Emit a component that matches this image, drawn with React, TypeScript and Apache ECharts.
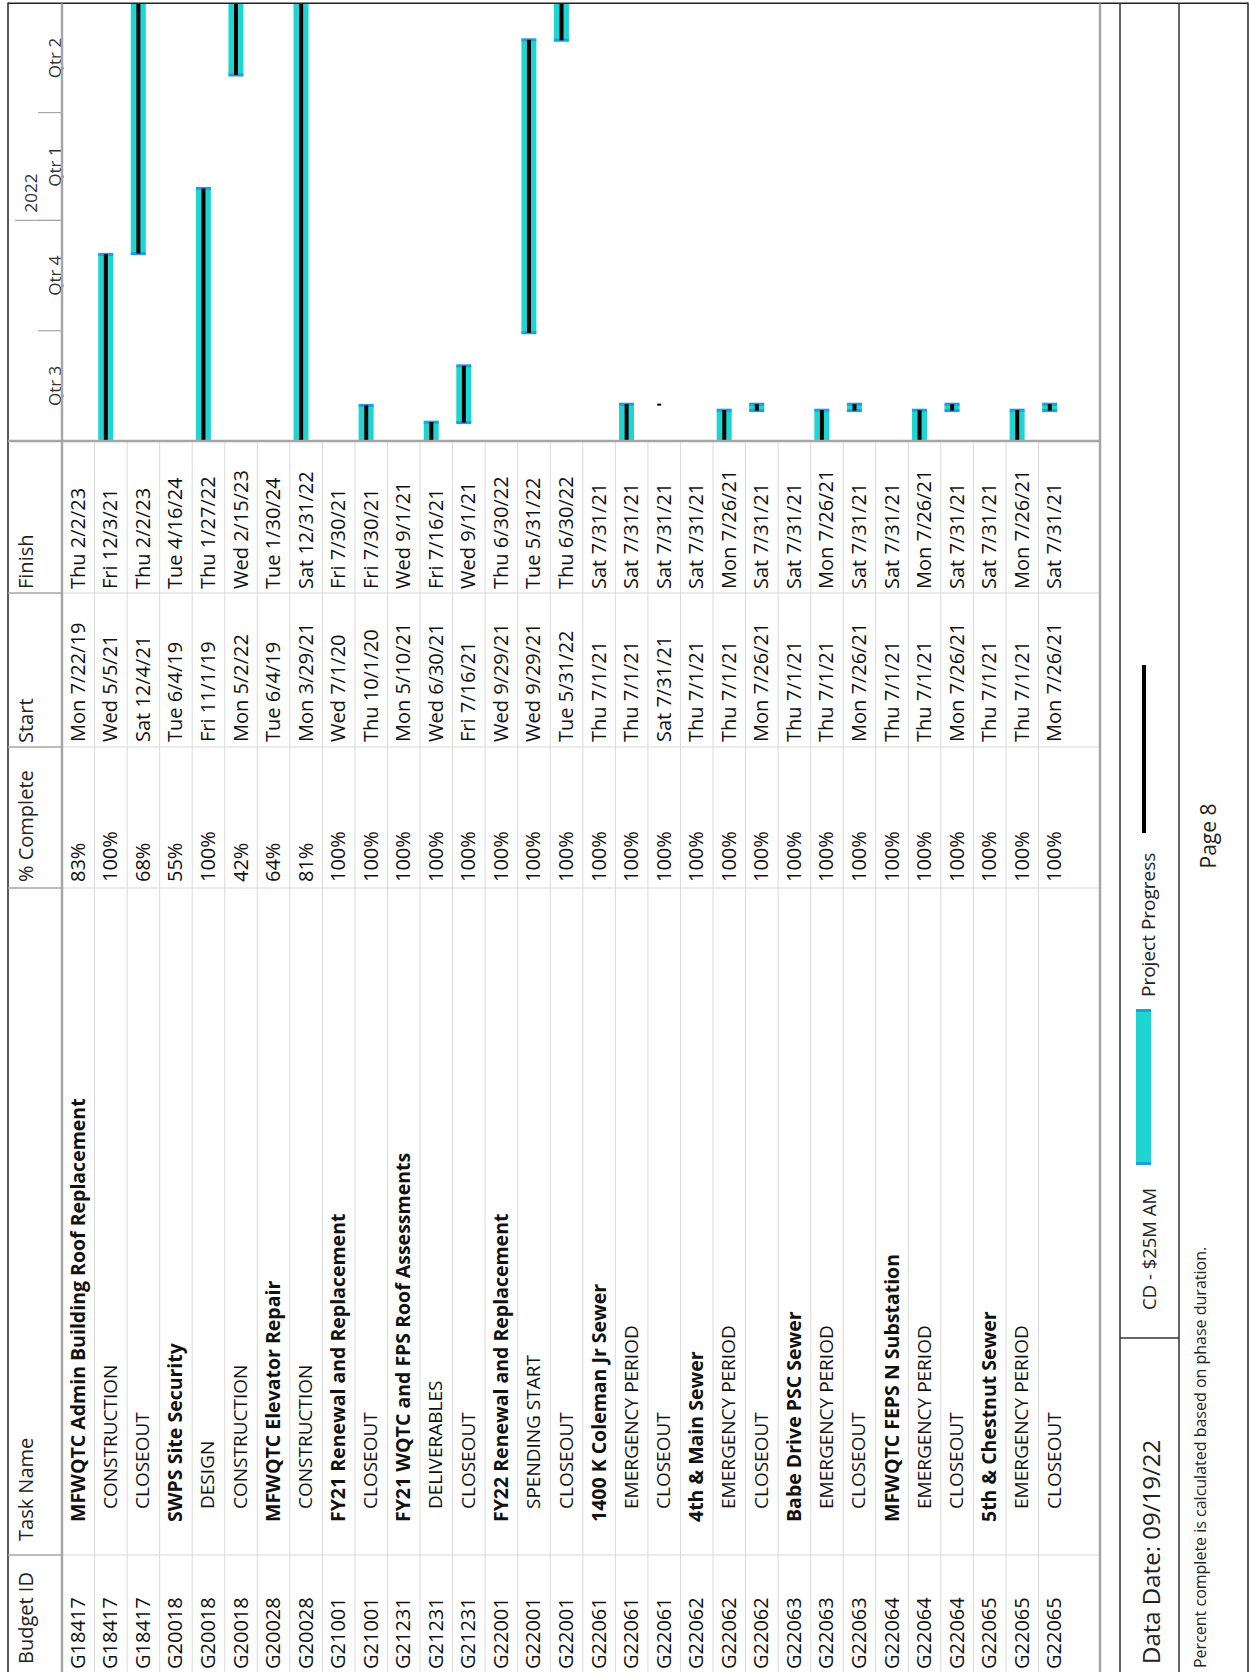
import React, { useEffect, useRef } from "react";
import * as echarts from "echarts";

// ---------------- data ----------------
const budgetIds = [
  "G18417", "G18417", "G18417", "G20018", "G20018", "G20018", "G20028", "G20028",
  "G21001", "G21001", "G21231", "G21231", "G21231", "G22001", "G22001", "G22001",
  "G22061", "G22061", "G22061", "G22062", "G22062", "G22062", "G22063", "G22063",
  "G22063", "G22064", "G22064", "G22064", "G22065", "G22065", "G22065",
];
const taskNames = [
  "MFWQTC Admin Building Roof Replacement", "CONSTRUCTION", "CLOSEOUT",
  "SWPS Site Security", "DESIGN", "CONSTRUCTION",
  "MFWQTC Elevator Repair", "CONSTRUCTION",
  "FY21 Renewal and Replacement", "CLOSEOUT",
  "FY21 WQTC and FPS Roof Assessments", "DELIVERABLES", "CLOSEOUT",
  "FY22 Renewal and Replacement", "SPENDING START", "CLOSEOUT",
  "1400 K Coleman Jr Sewer", "EMERGENCY PERIOD", "CLOSEOUT",
  "4th & Main Sewer", "EMERGENCY PERIOD", "CLOSEOUT",
  "Babe Drive PSC Sewer", "EMERGENCY PERIOD", "CLOSEOUT",
  "MFWQTC FEPS N Substation", "EMERGENCY PERIOD", "CLOSEOUT",
  "5th & Chestnut Sewer", "EMERGENCY PERIOD", "CLOSEOUT",
];
const summaryFlags = [
  1, 0, 0, 1, 0, 0, 1, 0, 1, 0, 1, 0, 0, 1, 0, 0,
  1, 0, 0, 1, 0, 0, 1, 0, 0, 1, 0, 0, 1, 0, 0,
];
const percentComplete = [
  83, 100, 68, 55, 100, 42, 64, 81, 100, 100, 100, 100, 100, 100, 100, 100,
  100, 100, 100, 100, 100, 100, 100, 100, 100, 100, 100, 100, 100, 100, 100,
];
const startDates = [
  "Mon 7/22/19", "Wed 5/5/21", "Sat 12/4/21", "Tue 6/4/19", "Fri 11/1/19", "Mon 5/2/22",
  "Tue 6/4/19", "Mon 3/29/21", "Wed 7/1/20", "Thu 10/1/20", "Mon 5/10/21", "Wed 6/30/21",
  "Fri 7/16/21", "Wed 9/29/21", "Wed 9/29/21", "Tue 5/31/22", "Thu 7/1/21", "Thu 7/1/21",
  "Sat 7/31/21", "Thu 7/1/21", "Thu 7/1/21", "Mon 7/26/21", "Thu 7/1/21", "Thu 7/1/21",
  "Mon 7/26/21", "Thu 7/1/21", "Thu 7/1/21", "Mon 7/26/21", "Thu 7/1/21", "Thu 7/1/21",
  "Mon 7/26/21",
];
const finishDates = [
  "Thu 2/2/23", "Fri 12/3/21", "Thu 2/2/23", "Tue 4/16/24", "Thu 1/27/22", "Wed 2/15/23",
  "Tue 1/30/24", "Sat 12/31/22", "Fri 7/30/21", "Fri 7/30/21", "Wed 9/1/21", "Fri 7/16/21",
  "Wed 9/1/21", "Thu 6/30/22", "Tue 5/31/22", "Thu 6/30/22", "Sat 7/31/21", "Sat 7/31/21",
  "Sat 7/31/21", "Sat 7/31/21", "Mon 7/26/21", "Sat 7/31/21", "Sat 7/31/21", "Mon 7/26/21",
  "Sat 7/31/21", "Sat 7/31/21", "Mon 7/26/21", "Sat 7/31/21", "Sat 7/31/21", "Mon 7/26/21",
  "Sat 7/31/21",
];
const columnHeaders = ["Budget ID", "Task Name", "% Complete", "Start", "Finish"];
const timelineRange = ["7/1/21", "7/1/22"];
const quarterBounds = ["7/1/21", "10/1/21", "1/1/22", "4/1/22", "7/1/22"];
const quarterLabels = ["Qtr 3", "Qtr 4", "Qtr 1", "Qtr 2"];
const yearBounds = ["1/1/22", "7/1/22"];
const yearLabels = ["2022"];
const legendLabels = ["CD - $25M AM", "Project Progress"];
const dataDateText = "Data Date: 09/19/22";
const noteText = "Percent complete is calculated based on phase duration.";
const pageText = "Page 8";

// ---------------- layout (unrotated frame) ----------------
const CW = 1672;
const CH = 1250;
const COL_X = [0, 117, 784, 925, 1079, 1231];
const GANTT_R = 1668.5;
const FRAME_L = 8;
const HEAD_B = 62;
const ROW_H = 32.55;
const TABLE_B = 1100;
const LEG_T = 1120;
const LEG_B = 1179;
const FRAME_R = 1248;
const FONT = '"Open Sans", "Noto Sans", "DejaVu Sans", sans-serif';
const CYAN = "#1fd5d2";
const CAP = "#1c9fdf";
const GRID_GREY = "#dadada";
const HEAD_GREY = "#a6a6a6";
const H = 3600000;

function parseDate(s: string): number {
  const parts = s.trim().split(" ");
  const [m, d, y] = parts[parts.length - 1].split("/").map(Number);
  return Date.UTC(2000 + y, m - 1, d);
}

function text(str: string, x: number, y: number, size: number, o: any = {}) {
  const align = o.align || "left";
  return {
    type: "text",
    x,
    y,
    silent: true,
    z: 20,
    style: {
      text: str,
      fill: o.fill || "#111",
      fontSize: size,
      fontFamily: FONT,
      fontWeight: o.bold ? "bold" : "normal",
      textAlign: align,
      align,
      textVerticalAlign: "middle",
      verticalAlign: "middle",
    },
  };
}
function rect(x: number, y: number, w: number, h: number, fill: string, z = 10) {
  return { type: "rect", silent: true, z, shape: { x, y, width: w, height: h }, style: { fill } };
}

function buildOption() {
  const n = taskNames.length;
  const T0 = parseDate(timelineRange[0]);
  const T1 = parseDate(timelineRange[1]);

  const barData: any[] = [];
  taskNames.forEach((_, i) => {
    if (summaryFlags[i]) return;
    const s = parseDate(startDates[i]) + 8 * H;
    const e = parseDate(finishDates[i]) + 17 * H;
    barData.push([s, e, i, percentComplete[i], startDates[i] === finishDates[i] ? 1 : 0]);
  });

  const g: any[] = [];
  // frame
  g.push(rect(0, FRAME_L - 0.75, GANTT_R + 1, 1.5, "#222"));
  g.push(rect(0, FRAME_R - 0.75, GANTT_R + 1, 1.5, "#222"));
  g.push(rect(GANTT_R - 0.5, FRAME_L, 1.5, FRAME_R - FRAME_L, "#222"));
  // header bottom, table bottom
  g.push(rect(0, HEAD_B - 1.25, GANTT_R, 2.5, HEAD_GREY));
  g.push(rect(0, TABLE_B - 1.25, GANTT_R, 2.5, HEAD_GREY));
  // column separators
  for (let c = 1; c < 5; c++) {
    g.push(rect(COL_X[c] - 0.75, FRAME_L, 1.5, HEAD_B - FRAME_L, HEAD_GREY));
    g.push(rect(COL_X[c] - 0.5, HEAD_B, 1, TABLE_B - HEAD_B, GRID_GREY, 5));
  }
  g.push(rect(COL_X[5] - 1.25, FRAME_L, 2.5, TABLE_B - FRAME_L, HEAD_GREY, 15));
  // legend box
  g.push(rect(0, LEG_T - 0.75, GANTT_R, 1.5, "#333"));
  g.push(rect(0, LEG_B - 0.75, GANTT_R, 1.5, "#333"));
  g.push(rect(334 - 0.75, LEG_T, 1.5, LEG_B - LEG_T, "#333"));
  // column headers
  const headX = [8, 131, 790, 929, 1083];
  columnHeaders.forEach((h, c) => g.push(text(h, headX[c], 25, 20, { fill: "#222" })));
  // footer
  g.push(text(dataDateText, 8, 1150, 24, { fill: "#222" }));
  g.push(text(legendLabels[0], 362, 1148, 18.5, { fill: "#222" }));
  g.push(rect(507, 1136, 156, 15, CYAN, 12));
  g.push(rect(507, 1136, 3, 15, CAP, 13));
  g.push(rect(660, 1136, 3, 15, CAP, 13));
  g.push(text(legendLabels[1], 675, 1148, 19, { fill: "#222" }));
  g.push(rect(839, 1142, 168, 4, "#000", 12));
  g.push(text(noteText, 4, 1200, 16, { fill: "#222" }));
  g.push(text(pageText, 836, 1208, 21, { fill: "#222", align: "center" }));

  const textX = [3, 150, 790, 930, 1083];

  return {
    animation: false,
    backgroundColor: "#ffffff",
    grid: { left: COL_X[5], top: HEAD_B, width: GANTT_R - COL_X[5], height: n * ROW_H },
    xAxis: { type: "value", min: T0, max: T1, show: false },
    yAxis: { type: "category", inverse: true, data: taskNames.map((_, i) => String(i)), show: false },
    graphic: { elements: g },
    series: [
      {
        type: "custom",
        name: "table",
        silent: true,
        data: taskNames.map((_, i) => [T0, i]),
        encode: { x: 0, y: 1 },
        renderItem: (params: any, api: any) => {
          const i = api.value(1);
          const p = api.coord([api.value(0), i]);
          const band = api.size([0, 1])[1];
          const yc = p[1] - 1;
          const ch: any[] = [];
          if (i > 0) ch.push(rect(0, p[1] - band / 2 - 0.5, COL_X[5], 1, GRID_GREY, 5));
          const bold = summaryFlags[i] === 1;
          ch.push(text(budgetIds[i], textX[0], yc, 20));
          ch.push(text(taskNames[i], bold ? textX[1] : textX[1] + 13, yc, bold ? 19.5 : 19, { bold }));
          ch.push(text(percentComplete[i] + "%", textX[2], yc, 20));
          ch.push(text(startDates[i], textX[3], yc, 20));
          ch.push(text(finishDates[i], textX[4], yc, 20));
          return { type: "group", children: ch };
        },
      },
      {
        type: "custom",
        name: "quarters",
        silent: true,
        data: quarterLabels.map((_, i) => [parseDate(quarterBounds[i]), parseDate(quarterBounds[i + 1]), 0, i]),
        encode: { x: [0, 1], y: 2 },
        renderItem: (params: any, api: any) => {
          const cs = params.coordSys;
          const x0 = api.coord([api.value(0), 0])[0];
          const x1 = api.coord([api.value(1), 0])[0];
          const ch: any[] = [];
          if (x0 > cs.x + 1) ch.push(rect(x0 - 0.6, 38, 1.2, cs.y - 38, HEAD_GREY));
          ch.push(text(quarterLabels[api.value(3)], (x0 + x1) / 2, 54, 17, { fill: "#333", align: "center" }));
          return { type: "group", children: ch };
        },
      },
      {
        type: "custom",
        name: "years",
        silent: true,
        data: yearLabels.map((_, i) => [parseDate(yearBounds[i]), parseDate(yearBounds[i + 1]), 0, i]),
        encode: { x: [0, 1], y: 2 },
        renderItem: (params: any, api: any) => {
          const cs = params.coordSys;
          const x0 = api.coord([api.value(0), 0])[0];
          const ch: any[] = [];
          ch.push(rect(x0 - 0.6, 15, 1.2, cs.y - 15, HEAD_GREY));
          ch.push(text(yearLabels[api.value(3)], x0 + 8, 30, 17, { fill: "#333" }));
          return { type: "group", children: ch };
        },
      },
      {
        type: "custom",
        name: "bars",
        silent: true,
        data: barData,
        encode: { x: [0, 1], y: 2 },
        renderItem: (params: any, api: any) => {
          const cs = params.coordSys;
          const left = cs.x;
          const right = cs.x + cs.width;
          const s = api.value(0);
          const e = api.value(1);
          const row = api.value(2);
          const pct = api.value(3);
          const zero = api.value(4);
          const ps = api.coord([s, row]);
          const pe = api.coord([e, row]);
          const yc = ps[1];
          const top = yc - 12.6;
          const bh = 15;
          const ch: any[] = [];
          if (zero) {
            ch.push(rect(ps[0] - 1, yc - 7, 2, 4, "#000", 30));
            return { type: "group", children: ch };
          }
          const x0 = Math.max(ps[0], left);
          const x1 = Math.min(pe[0], right);
          if (x1 <= x0) return null;
          ch.push(rect(x0, top, x1 - x0, bh, CYAN, 25));
          if (ps[0] > left + 1.5) ch.push(rect(ps[0] - 1.5, top, 3, bh, CAP, 26));
          if (pe[0] < right - 1.5) ch.push(rect(pe[0] - 1.5, top, 3, bh, CAP, 26));
          const pp = Math.min(api.coord([s + ((e - s) * pct) / 100, row])[0], right);
          if (pp > x0) ch.push(rect(x0, yc - 7, pp - x0, 4, "#000", 27));
          return { type: "group", children: ch };
        },
      },
    ],
  };
}

export default function App() {
  const ref = useRef<HTMLDivElement>(null);
  useEffect(() => {
    if (!ref.current) return;
    const chart = echarts.init(ref.current, null, { renderer: "svg", width: CW, height: CH });
    chart.setOption(buildOption() as any);
    return () => chart.dispose();
  }, []);
  return (
    <div
      style={{
        position: "fixed",
        left: 0,
        top: 0,
        width: 1250,
        height: 1672,
        overflow: "hidden",
        background: "#ffffff",
      }}
    >
      <div
        ref={ref}
        style={{
          position: "absolute",
          left: 0,
          top: 0,
          width: CW,
          height: CH,
          transformOrigin: "0 0",
          transform: `translateY(${1672}px) rotate(-90deg)`,
        }}
      />
    </div>
  );
}
